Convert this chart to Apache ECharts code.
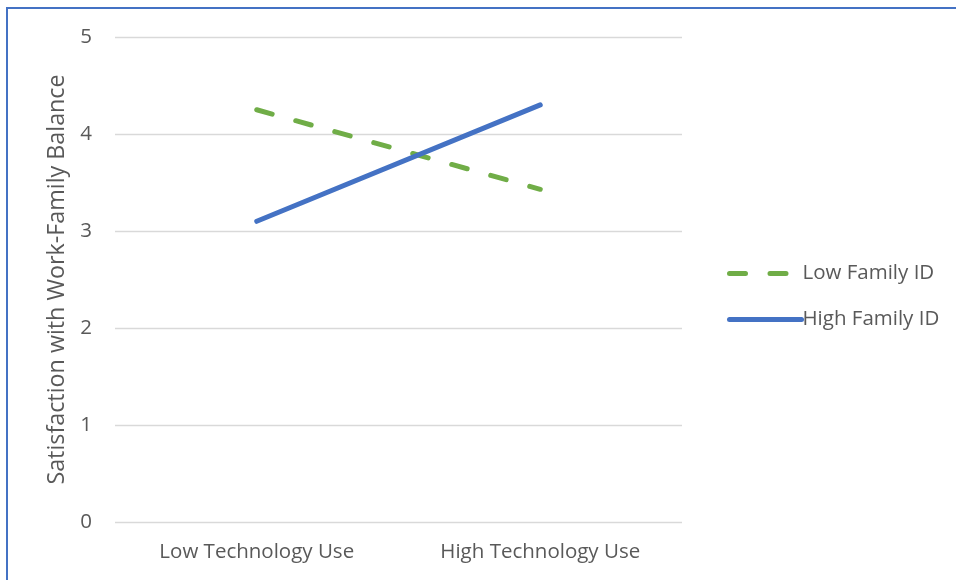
<!DOCTYPE html>
<html>
<head>
<meta charset="utf-8">
<script src="https://cdn.jsdelivr.net/npm/echarts@6/dist/echarts.min.js"></script>
<style>
  html, body { margin: 0; padding: 0; background: #fff; }
  #chart { width: 956px; height: 580px; }
</style>
</head>
<body>
<div id="chart"></div>
<script>
// Interaction plot: technology use x family identity
const categories = ['Low Technology Use', 'High Technology Use'];
const lowFamilyId = [4.25, 3.43];
const highFamilyId = [3.10, 4.30];
const yTicks = [0, 1, 2, 3, 4, 5];

const textColor = '#595959';
const fontFamily = 'Open Sans, Noto Sans, sans-serif';

const chart = echarts.init(document.getElementById('chart'));
chart.setOption({
  animation: false,
  backgroundColor: '#fff',
  grid: { left: 115, right: 274, top: 37, bottom: 58 },
  graphic: [{
    type: 'rect',
    shape: { x: 7, y: 8, width: 1000, height: 700 },
    style: { fill: 'none', stroke: '#4472C4', lineWidth: 2 },
    silent: true
  }],
  legend: {
    orient: 'vertical',
    left: 722,
    top: 258,
    itemWidth: 72,
    itemHeight: 14,
    itemGap: 25,
    itemStyle: { opacity: 0 },
    lineStyle: { width: 5, cap: 'round' },
    textStyle: { color: textColor, fontSize: 20.5, fontFamily: fontFamily, padding: [0, 0, 0, -4] },
    data: ['Low Family ID', 'High Family ID']
  },
  xAxis: {
    type: 'category',
    data: categories,
    axisLine: { show: false },
    axisTick: { show: false },
    axisLabel: { color: textColor, fontSize: 20.5, fontFamily: fontFamily, margin: 20 }
  },
  yAxis: {
    type: 'value',
    min: yTicks[0],
    max: yTicks[yTicks.length - 1],
    interval: 1,
    name: 'Satisfaction with Work-Family Balance',
    nameLocation: 'middle',
    nameGap: 46,
    nameRotate: 90,
    nameTextStyle: { color: textColor, fontSize: 23.3, fontFamily: fontFamily },
    axisLine: { show: false },
    axisTick: { show: false },
    axisLabel: { color: textColor, fontSize: 20.5, fontFamily: fontFamily, margin: 23 },
    splitLine: { lineStyle: { color: '#d9d9d9', width: 1.3 } }
  },
  series: [
    {
      name: 'Low Family ID',
      type: 'line',
      data: lowFamilyId,
      symbol: 'none',
      color: '#70AD47',
      lineStyle: { color: '#70AD47', width: 5, type: [16, 24.5], cap: 'round' }
    },
    {
      name: 'High Family ID',
      type: 'line',
      data: highFamilyId,
      symbol: 'none',
      color: '#4472C4',
      lineStyle: { color: '#4472C4', width: 5, cap: 'round' }
    }
  ]
});
</script>
</body>
</html>
